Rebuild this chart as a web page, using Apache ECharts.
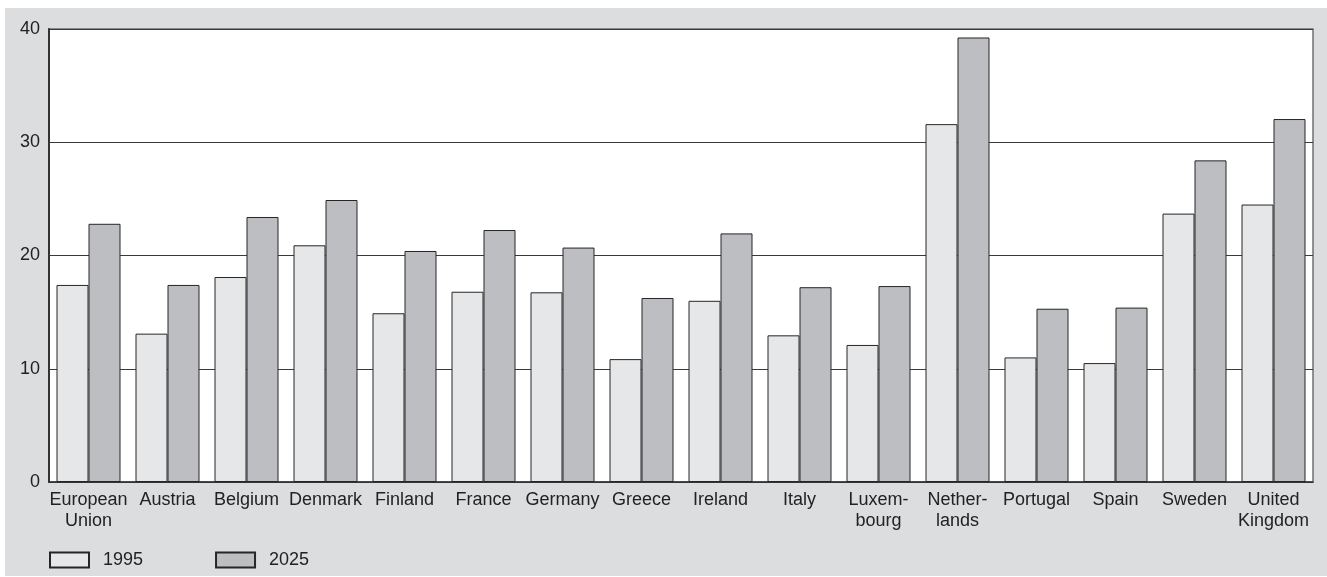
<!DOCTYPE html>
<html>
<head>
<meta charset="utf-8">
<script src="https://cdn.jsdelivr.net/npm/echarts@6/dist/echarts.min.js"></script>
<style>
  html, body { margin: 0; padding: 0; background: #fff; }
  #bg { position: absolute; left: 5px; top: 8px; width: 1322px; height: 568px; background: #dcdddf; }
  #chart { position: absolute; left: 0; top: 0; width: 1327px; height: 577px; }
</style>
</head>
<body>
<div id="bg"></div>
<div id="chart"></div>
<script>
const categories = ["European\nUnion", "Austria", "Belgium", "Denmark", "Finland", "France", "Germany", "Greece", "Ireland", "Italy", "Luxem-\nbourg", "Nether-\nlands", "Portugal", "Spain", "Sweden", "United\nKingdom"];
const values1995 = [17.4, 13.1, 18.1, 20.9, 14.9, 16.8, 16.75, 10.85, 16.0, 12.95, 12.1, 31.6, 11.0, 10.5, 23.7, 24.5];
const values2025 = [22.8, 17.4, 23.4, 24.9, 20.4, 22.25, 20.7, 16.25, 21.95, 17.2, 17.3, 39.25, 15.3, 15.4, 28.4, 32.05];
const seriesNames = ["1995", "2025"];
const yTicks = { min: 0, max: 40, interval: 10 };

const font = "'Liberation Sans', Arial, Helvetica, sans-serif";
const chart = echarts.init(document.getElementById('chart'), null, { renderer: 'canvas' });
chart.setOption({
  backgroundColor: 'transparent',
  animation: false,
  textStyle: { fontFamily: font, color: '#222' },
  grid: {
    left: 49, top: 29, right: 14, bottom: 95,
    show: true, backgroundColor: '#ffffff', borderColor: '#707070', borderWidth: 1.5
  },
  legend: {
    left: 44, top: 546,
    icon: 'rect',
    itemWidth: 39, itemHeight: 15, itemGap: 72,
    textStyle: { fontFamily: font, fontSize: 18, color: '#222', padding: [0, 0, 0, 9] },
    data: seriesNames
  },
  xAxis: {
    type: 'category',
    data: categories,
    axisLine: { show: true, lineStyle: { color: '#333', width: 1.5 } },
    axisTick: { show: false },
    axisLabel: { interval: 0, margin: 8, fontSize: 18, lineHeight: 21, color: '#222', fontFamily: font, align: 'center' }
  },
  yAxis: {
    type: 'value',
    min: yTicks.min, max: yTicks.max, interval: yTicks.interval,
    axisLine: { show: true, lineStyle: { color: '#333', width: 2 } },
    axisTick: { show: false },
    axisLabel: { margin: 9, fontSize: 18, color: '#222', fontFamily: font },
    splitLine: { show: true, lineStyle: { color: '#3a3a3a', width: 1 } }
  },
  series: [
    {
      name: seriesNames[0], type: 'bar', data: values1995,
      barWidth: 32, barGap: '0%',
      itemStyle: { color: '#e6e7e9', borderColor: '#262626', borderWidth: 1 }
    },
    {
      name: seriesNames[1], type: 'bar', data: values2025,
      barWidth: 32, barGap: '0%',
      itemStyle: { color: '#bdbec2', borderColor: '#262626', borderWidth: 1 }
    }
  ]
});
</script>
</body>
</html>
